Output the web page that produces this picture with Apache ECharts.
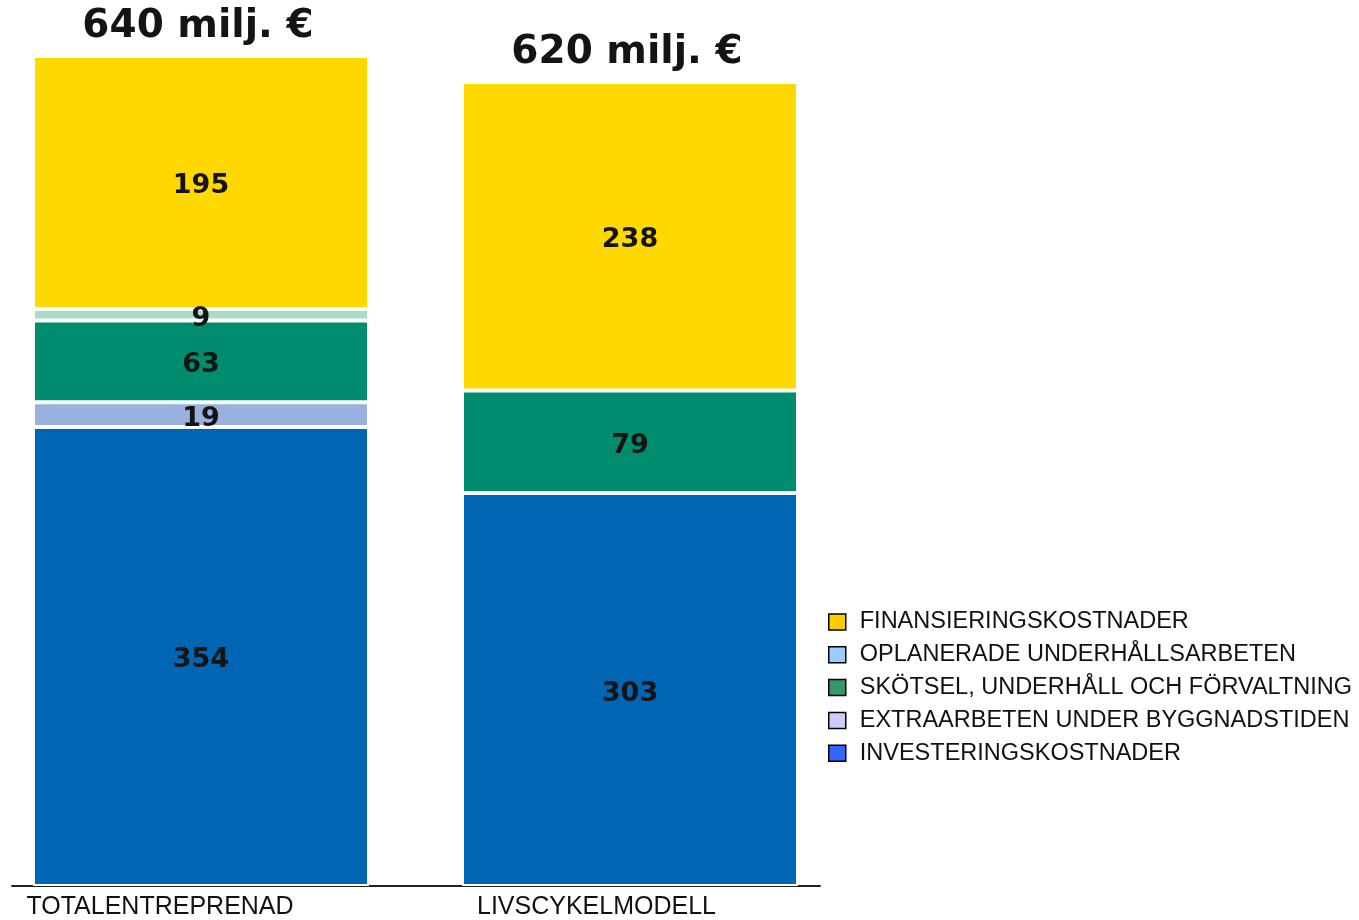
<!DOCTYPE html>
<html>
<head>
<meta charset="utf-8">
<script src="https://cdn.jsdelivr.net/npm/echarts@6/dist/echarts.min.js"></script>
<style>
html,body{margin:0;padding:0;background:#fff;}
#c{width:1359px;height:920px;}
</style>
</head>
<body>
<div id="c"></div>
<script>
const categories = ['TOTALENTREPRENAD', 'LIVSCYKELMODELL'];
const totals = [640, 620];
const investering = [354, 303];
const extraarbeten = [19, null];
const skotsel = [63, 79];
const oplanerade = [9, null];
const finansiering = [195, 238];
const totalUnit = ' milj. €';

const names = {
  inv: 'INVESTERINGSKOSTNADER',
  ext: 'EXTRAARBETEN UNDER BYGGNADSTIDEN',
  sko: 'SKÖTSEL, UNDERHÅLL OCH FÖRVALTNING',
  opl: 'OPLANERADE UNDERHÅLLSARBETEN',
  fin: 'FINANSIERINGSKOSTNADER'
};

const barColors = { inv:'#0066B3', ext:'#9BB1DD', sko:'#008C6E', opl:'#A9D9C7', fin:'#FFD800' };
const legendColors = { inv:'#3366FF', ext:'#CCCCFF', sko:'#339966', opl:'#99CCFF', fin:'#FFCC00' };

const numLabel = {
  show: true,
  position: 'inside',
  offset: [0, 4],
  fontFamily: 'DejaVu Sans',
  fontWeight: 'bold',
  fontSize: 27,
  color: '#141414'
};

function seg(key, data) {
  return {
    name: names[key],
    type: 'bar',
    stack: 'total',
    xAxisIndex: 0, yAxisIndex: 0,
    barWidth: 336,
    data: data,
    itemStyle: { color: barColors[key], borderColor: '#ffffff', borderWidth: 2 },
    label: numLabel,
    emphasis: { disabled: true }
  };
}

const chart = echarts.init(document.getElementById('c'), null, { renderer: 'canvas' });
chart.setOption({
  animation: false,
  backgroundColor: '#ffffff',
  grid: [
    { left: 201, right: 729, top: 56, bottom: 30 },
    { left: 12, right: 539, top: 885, bottom: 34 }
  ],
  xAxis: [
    {
      type: 'category', gridIndex: 0, boundaryGap: false,
      data: [
        { value: categories[0], textStyle: { padding: [0, 82, 0, 0] } },
        { value: categories[1], textStyle: { padding: [0, 67, 0, 0] } }
      ],
      axisLine: { show: false }, axisTick: { show: false }, splitLine: { show: false },
      axisLabel: { fontFamily: 'Liberation Sans', fontSize: 25, color: '#111', margin: 9 }
    },
    {
      type: 'value', gridIndex: 1, min: 0, max: 1,
      axisLine: { show: true, lineStyle: { color: '#222', width: 2 } },
      axisTick: { show: false }, axisLabel: { show: false }, splitLine: { show: false }
    }
  ],
  yAxis: [
    { type: 'value', gridIndex: 0, min: 0, max: 640, show: false },
    { type: 'value', gridIndex: 1, min: 0, max: 1, show: false }
  ],
  legend: {
    orient: 'vertical',
    left: 823, top: 605,
    itemWidth: 17, itemHeight: 16, itemGap: 8.8,
    selectedMode: false,
    textStyle: { fontFamily: 'Liberation Sans', fontSize: 23.5, color: '#111', padding: [0, 0, 0, 9] },
    data: ['fin', 'opl', 'sko', 'ext', 'inv'].map(k => ({
      name: names[k],
      icon: 'rect',
      itemStyle: { color: legendColors[k], borderColor: '#000', borderWidth: 1.5 }
    }))
  },
  series: [
    seg('inv', investering),
    seg('ext', extraarbeten),
    seg('sko', skotsel),
    seg('opl', oplanerade),
    seg('fin', finansiering),
    {
      name: 'total', type: 'bar', stack: 'total', barWidth: 336,
      data: totals.map(() => 0),
      itemStyle: { color: 'rgba(0,0,0,0)' },
      label: {
        show: true, position: 'top', distance: 10, offset: [-3, 0],
        fontFamily: 'DejaVu Sans', fontWeight: 'bold', fontSize: 39, color: '#141414',
        formatter: p => totals[p.dataIndex] + totalUnit
      },
      emphasis: { disabled: true }
    }
  ]
});
</script>
</body>
</html>
